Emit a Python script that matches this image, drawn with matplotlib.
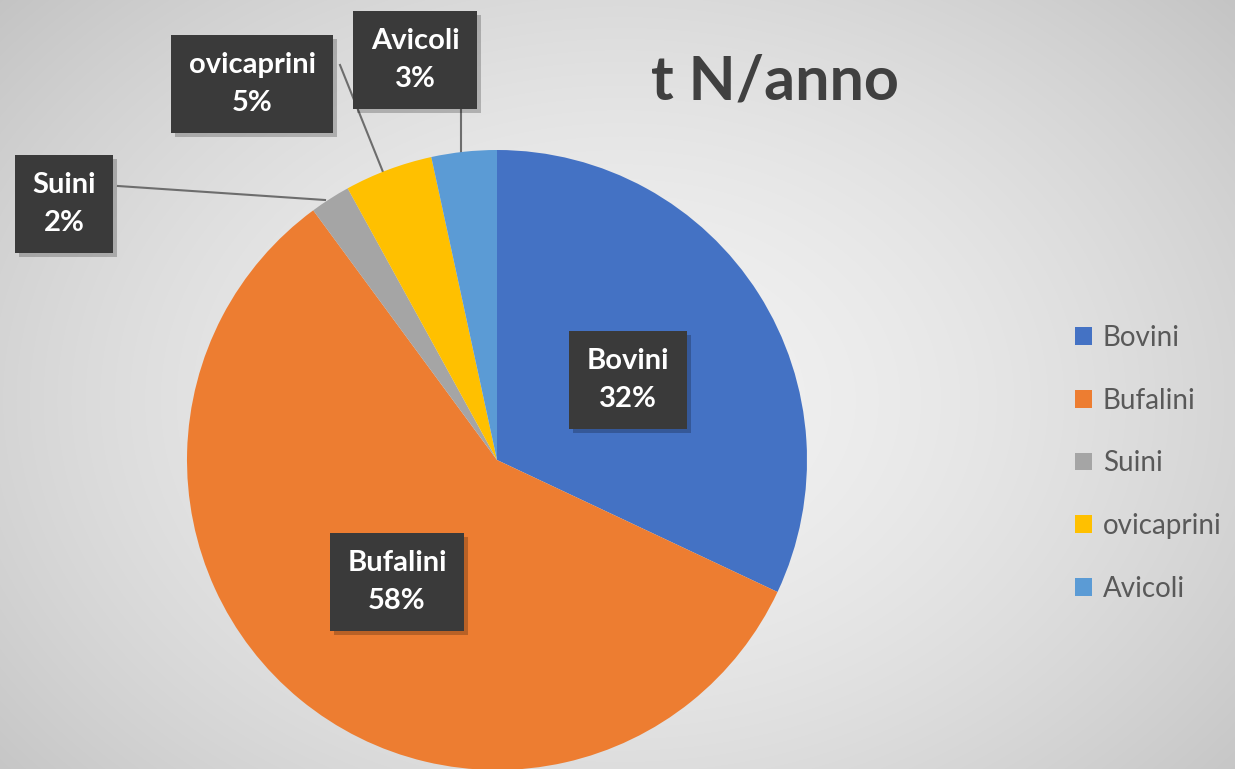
import numpy as np
import matplotlib
matplotlib.use("Agg")
import matplotlib.pyplot as plt
import matplotlib.patheffects as pe
from matplotlib.patches import Patch

# data
categories = ["Bovini", "Bufalini", "Suini", "ovicaprini", "Avicoli"]
values = [32.0, 57.9, 2.1, 4.6, 3.4]
colors = ["#4472C4", "#ED7D31", "#A5A5A5", "#FFC000", "#5B9BD5"]

W, H = 1235, 769
fig = plt.figure(figsize=(W / 100, H / 100), dpi=100)

# background radial gradient
bg = fig.add_axes([0, 0, 1, 1])
bg.set_axis_off()
yy, xx = np.mgrid[0:H, 0:W]
r = np.sqrt(((xx - 620) / 760.0) ** 2 + ((yy - 400) / 560.0) ** 2)
shade = 0.95 - 0.16 * np.clip(r, 0, 1.3) ** 1.6
bg.imshow(np.dstack([shade] * 3), extent=[0, W, 0, H], origin="upper", aspect="auto")

ax = fig.add_axes([0, 0, 1, 1])
ax.set_axis_off()

cx, cy, rad = 497, H - 460, 310
wedges, _ = ax.pie(values, colors=colors, startangle=90, counterclock=False,
                   center=(cx, cy), radius=rad, frame=True,
                   wedgeprops=dict(linewidth=0))
ax.set_xlim(0, W)
ax.set_ylim(0, H)
ax.set_aspect("equal")
ax.set_axis_off()

# data labels (pixel positions from the top-left)
label_pos = [(628, 380), (397, 582), (64, 204), (252, 84), (415, 60)]
for name, v, (px, py) in zip(categories, values, label_pos):
    t = ax.text(px, H - py, f"{name}\n{round(v):d}%", ha="center", va="center",
                color="white", fontsize=21, fontweight="bold", family="Lato",
                linespacing=1.55,
                bbox=dict(boxstyle="square,pad=0.6", fc="#3a3a3a", ec="none"))
    t.get_bbox_patch().set_path_effects([
        pe.SimplePatchShadow(offset=(3, -3), shadow_rgbFace="#000000", alpha=0.22),
        pe.Normal()])

# leader lines
leaders = [((118, 186), (325, 200)), ((340, 65), (383, 172)), ((461, 110), (461, 153))]
for (x0, y0), (x1, y1) in leaders:
    ax.plot([x0, x1], [H - y0, H - y1], color="#6d6d6d", lw=1.5, zorder=0.5)

ax.text(775, H - 82, "t N/anno", ha="center", va="center", fontsize=44,
        fontweight="bold", family="Lato", color="#404040")

handles = [Patch(facecolor=c, edgecolor="none") for c in colors]
leg = fig.legend(handles, categories, loc="upper left",
                 bbox_to_anchor=(1050 / W, 1 - 300 / H), frameon=False,
                 prop={"family": "Lato", "size": 20}, labelspacing=1.32,
                 handlelength=0.6, handleheight=0.6, handletextpad=0.4)
for txt in leg.get_texts():
    txt.set_color("#595959")

fig.savefig("out.png", dpi=100)
